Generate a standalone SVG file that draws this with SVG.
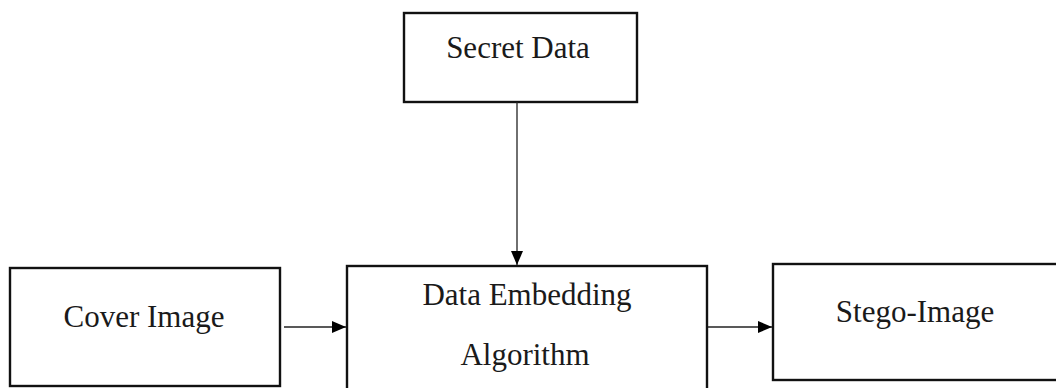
<svg xmlns="http://www.w3.org/2000/svg" width="1056" height="388" viewBox="0 0 1056 388">
<style>
.box{fill:#fff;stroke:#111;stroke-width:2.4}
.lbl{font-family:"Liberation Serif","Times New Roman",serif;font-size:31px;fill:#1a1a1a;text-anchor:middle}
.conn{stroke:#222;stroke-width:1.3;fill:none}
</style>
<defs>
<marker id="ah" viewBox="0 0 14 12" refX="14" refY="6" markerWidth="14" markerHeight="12" markerUnits="userSpaceOnUse" orient="auto">
<path d="M0,0 L14,6 L0,12 Z" fill="#000"/>
</marker>
</defs>
<rect width="1056" height="388" fill="#fff"/>
<g id="secret-data">
<rect class="box" x="404" y="13" width="233" height="89"/>
<text class="lbl" x="518" y="58">Secret Data</text>
</g>
<g id="cover-image">
<rect class="box" x="10" y="268" width="270" height="118"/>
<text class="lbl" x="144" y="327">Cover Image</text>
</g>
<g id="data-embedding">
<rect class="box" x="347" y="266" width="360" height="130"/>
<text class="lbl" x="527" y="305">Data Embedding</text>
<text class="lbl" x="525" y="365">Algorithm</text>
</g>
<g id="stego-image">
<rect class="box" x="773" y="264" width="300" height="116"/>
<text class="lbl" x="915" y="322">Stego-Image</text>
</g>
<g id="connectors">
<line class="conn" x1="517" y1="102" x2="517" y2="265" marker-end="url(#ah)"/>
<line class="conn" x1="284" y1="327" x2="346" y2="327" marker-end="url(#ah)"/>
<line class="conn" x1="708" y1="327" x2="772" y2="327" marker-end="url(#ah)"/>
</g>
</svg>
